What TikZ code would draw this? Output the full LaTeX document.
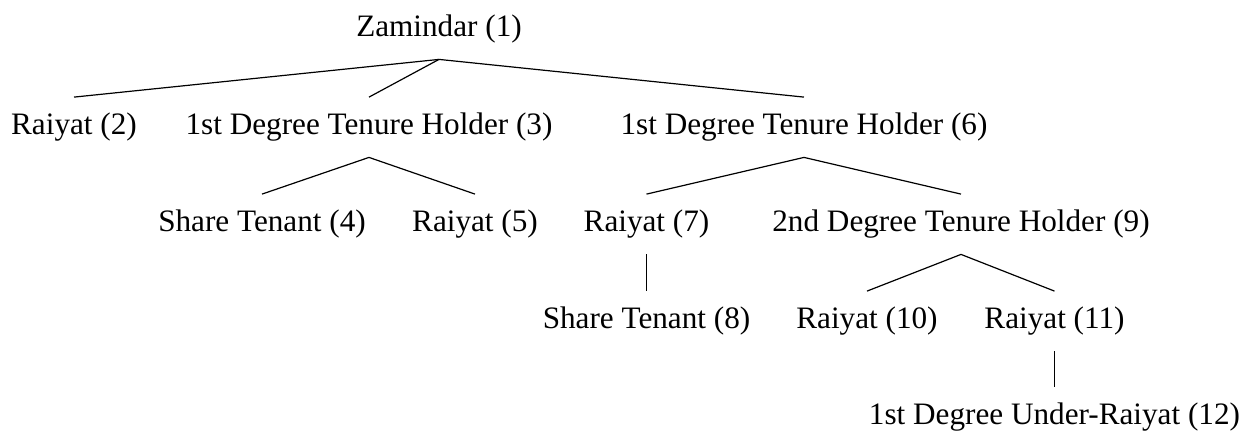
\documentclass[tikz,border=0pt]{standalone}
\usepackage{fontspec}
\setmainfont{Liberation Serif}
\begin{document}
\begin{tikzpicture}[x=0.5pt,y=-0.5pt,
  tn/.style={anchor=base, inner sep=0pt, text height=18.25pt, text depth=11.5pt,
             font=\fontsize{15.6}{18}\selectfont},
  edge/.style={line width=0.6pt}]
\useasboundingbox (0,0) rectangle (1254,435);
% row 1
\node[tn] (n1) at (439,36) {Zamindar (1)};
% row 2
\node[tn] (n2) at (74,134) {Raiyat (2)};
\node[tn] (n3) at (369,134) {1st Degree Tenure Holder (3)};
\node[tn] (n6) at (804,134) {1st Degree Tenure Holder (6)};
% row 3
\node[tn] (n4) at (262,231) {Share Tenant (4)};
\node[tn] (n5) at (475,231) {Raiyat (5)};
\node[tn] (n7) at (646.5,231) {Raiyat (7)};
\node[tn] (n9) at (961,231) {2nd Degree Tenure Holder (9)};
% row 4
\node[tn] (n8) at (646.5,328) {Share Tenant (8)};
\node[tn] (n10) at (867,328) {Raiyat (10)};
\node[tn] (n11) at (1054.5,328) {Raiyat (11)};
% row 5
\node[tn] (n12) at (1054.5,424) {1st Degree Under-Raiyat (12)};
% edges
\draw[edge] (n1.south) -- (n2.north);
\draw[edge] (n1.south) -- (n3.north);
\draw[edge] (n1.south) -- (n6.north);
\draw[edge] (n3.south) -- (n4.north);
\draw[edge] (n3.south) -- (n5.north);
\draw[edge] (n6.south) -- (n7.north);
\draw[edge] (n6.south) -- (n9.north);
\draw[edge] (n7.south) -- (n8.north);
\draw[edge] (n9.south) -- (n10.north);
\draw[edge] (n9.south) -- (n11.north);
\draw[edge] (n11.south) -- (n12.north);
\end{tikzpicture}
\end{document}
